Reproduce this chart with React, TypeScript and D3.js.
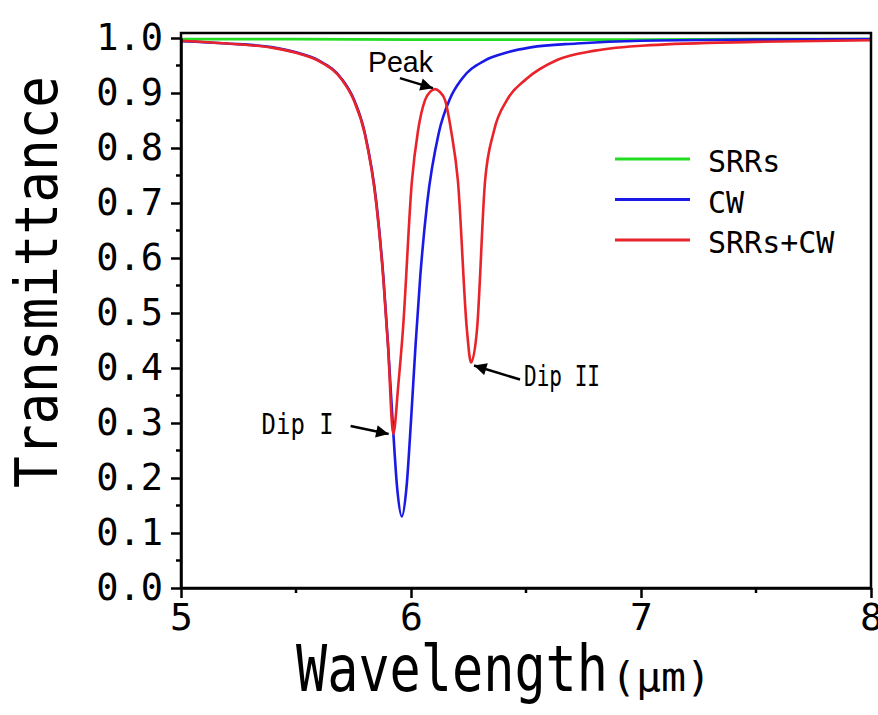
import { useEffect, useRef } from "react";
import * as d3 from "d3";

// SRRs only
const srrWavelength = [5.0, 5.5, 6.0, 6.5, 7.0, 7.5, 8.0];
const srrTransmittance = [0.998, 0.998, 0.997, 0.997, 0.997, 0.998, 0.998];

// cut wire only
const cwWavelength = [
  5.0, 5.2, 5.4, 5.5, 5.6, 5.7, 5.75, 5.8, 5.85, 5.88, 5.9, 5.92, 5.94, 5.96,
  5.98, 6.0, 6.02, 6.04, 6.07, 6.12, 6.17, 6.22, 6.32, 6.42, 6.52, 6.72, 7.0,
  7.5, 8.0,
];
const cwTransmittance = [
  0.994, 0.99, 0.983, 0.974, 0.959, 0.925, 0.89, 0.826, 0.699, 0.565, 0.443,
  0.304, 0.181, 0.13, 0.181, 0.304, 0.443, 0.565, 0.699, 0.826, 0.89, 0.925,
  0.959, 0.974, 0.983, 0.99, 0.995, 0.997, 0.998,
];

// SRRs + CW
const bothWavelength = [
  5.0, 5.2, 5.4, 5.5, 5.6, 5.7, 5.75, 5.8, 5.85, 5.88, 5.9, 5.923, 5.945, 5.965,
  6.004, 6.03, 6.061, 6.085, 6.104, 6.125, 6.148, 6.175, 6.204, 6.243, 6.261,
  6.287, 6.322, 6.36, 6.417, 6.5, 6.635, 6.8, 7.04, 7.5, 8.0,
];
const bothTransmittance = [
  0.995, 0.99, 0.982, 0.973, 0.958, 0.924, 0.888, 0.824, 0.695, 0.56, 0.44,
  0.28, 0.37, 0.47, 0.74, 0.83, 0.887, 0.903, 0.907, 0.902, 0.887, 0.83, 0.74,
  0.47, 0.41, 0.47, 0.74, 0.83, 0.887, 0.925, 0.96, 0.977, 0.987, 0.993, 0.996,
];

const seriesNames = ["SRRs", "CW", "SRRs+CW"];
const seriesColors = ["#22dd22", "#1a1ae6", "#e8232a"];

const xMajorTicks = [5, 6, 7, 8];
const xMinorTicks = [5.5, 6.5, 7.5];
const yMajorTicks = [0, 0.1, 0.2, 0.3, 0.4, 0.5, 0.6, 0.7, 0.8, 0.9, 1.0];
const yMinorTicks = [0.05, 0.15, 0.25, 0.35, 0.45, 0.55, 0.65, 0.75, 0.85, 0.95];

// arrow tip in data units, label placement in px relative to the tip
const annotations = [
  { label: "Peak", wl: 6.104, t: 0.907, dx: -2, dy: -1, tail: [-33, -10], text: [-65, -16], len: 65 },
  { label: "Dip I", wl: 5.92, t: 0.28, dx: -4, dy: 0, tail: [-38, -8], text: [-127, 0], len: 72 },
  { label: "Dip II", wl: 6.261, t: 0.41, dx: 3, dy: 3, tail: [46, 14], text: [50, 20], len: 76 },
];

const W = 878;
const H = 715;
const margin = { top: 33, right: 7, bottom: 127, left: 181 };
const mono = "'DejaVu Sans Mono', monospace";

export default function App() {
  const svgRef = useRef<SVGSVGElement>(null);

  useEffect(() => {
    const svg = d3.select(svgRef.current);
    svg.selectAll("*").remove();

    const x = d3.scaleLinear().domain([5, 8]).range([margin.left, W - margin.right]);
    const y = d3.scaleLinear().domain([0, 1]).range([H - margin.bottom, 38]);

    svg
      .append("defs")
      .append("marker")
      .attr("id", "arrow")
      .attr("viewBox", "0 0 10 10")
      .attr("refX", 10)
      .attr("refY", 5)
      .attr("markerWidth", 6)
      .attr("markerHeight", 5)
      .attr("markerUnits", "strokeWidth")
      .attr("orient", "auto")
      .append("path")
      .attr("d", "M0,0L10,5L0,10z")
      .attr("fill", "#000");

    // curves
    const data = [
      d3.zip(srrWavelength, srrTransmittance),
      d3.zip(cwWavelength, cwTransmittance),
      d3.zip(bothWavelength, bothTransmittance),
    ];
    const line = d3
      .line<number[]>()
      .x((d) => x(d[0]))
      .y((d) => y(d[1]))
      .curve(d3.curveMonotoneX);

    data.forEach((pts, i) => {
      svg
        .append("path")
        .datum(pts)
        .attr("fill", "none")
        .attr("stroke", seriesColors[i])
        .attr("stroke-width", 2.6)
        .attr("d", line);
    });

    // frame
    svg
      .append("rect")
      .attr("x", margin.left)
      .attr("y", margin.top)
      .attr("width", W - margin.left - margin.right)
      .attr("height", H - margin.top - margin.bottom)
      .attr("fill", "none")
      .attr("stroke", "#000")
      .attr("stroke-width", 2.5);

    // y axis
    const yAxis = svg
      .append("g")
      .attr("transform", `translate(${margin.left},0)`)
      .call(
        d3.axisLeft(y)
          .tickValues(yMajorTicks)
          .tickFormat(d3.format(".1f"))
          .tickSize(10)
          .tickSizeOuter(0)
          .tickPadding(8)
      );
    yAxis.select(".domain").attr("stroke-width", 2.5);
    yAxis.selectAll("line").attr("stroke-width", 2.5);
    yAxis.selectAll("text").style("font-family", mono).style("font-size", "37px").attr("fill", "#000");

    svg
      .append("g")
      .selectAll("line")
      .data(yMinorTicks)
      .enter()
      .append("line")
      .attr("x1", margin.left - 5)
      .attr("x2", margin.left)
      .attr("y1", (d) => y(d))
      .attr("y2", (d) => y(d))
      .attr("stroke", "#000")
      .attr("stroke-width", 2.5);

    // x axis
    const xAxis = svg
      .append("g")
      .attr("transform", `translate(0,${H - margin.bottom})`)
      .call(
        d3.axisBottom(x)
          .tickValues(xMajorTicks)
          .tickFormat(d3.format("d"))
          .tickSize(10)
          .tickSizeOuter(0)
          .tickPadding(5)
      );
    xAxis.select(".domain").attr("stroke-width", 2.5);
    xAxis.selectAll("line").attr("stroke-width", 2.5);
    xAxis.selectAll("text").style("font-family", mono).style("font-size", "38px").attr("fill", "#000");

    svg
      .append("g")
      .selectAll("line")
      .data(xMinorTicks)
      .enter()
      .append("line")
      .attr("x1", (d) => x(d))
      .attr("x2", (d) => x(d))
      .attr("y1", H - margin.bottom)
      .attr("y2", H - margin.bottom + 5)
      .attr("stroke", "#000")
      .attr("stroke-width", 2.5);

    // axis titles
    svg
      .append("text")
      .attr("transform", "translate(57,282) rotate(-90)")
      .attr("text-anchor", "middle")
      .attr("textLength", 412)
      .attr("lengthAdjust", "spacingAndGlyphs")
      .style("font-family", mono)
      .style("font-size", "58px")
      .text("Transmittance");

    svg
      .append("text")
      .attr("x", 296)
      .attr("y", 691)
      .attr("textLength", 312)
      .attr("lengthAdjust", "spacingAndGlyphs")
      .style("font-family", mono)
      .style("font-size", "64px")
      .text("Wavelength");

    svg
      .append("text")
      .attr("x", 611)
      .attr("y", 691)
      .attr("textLength", 100)
      .attr("lengthAdjust", "spacingAndGlyphs")
      .style("font-family", mono)
      .style("font-size", "40px")
      .text("(μm)");

    // legend
    const legend = svg.append("g").attr("transform", "translate(615,159)");
    seriesNames.forEach((name, i) => {
      const g = legend.append("g").attr("transform", `translate(0,${i * 40.5})`);
      g.append("line")
        .attr("x1", 0)
        .attr("x2", 75)
        .attr("stroke", seriesColors[i])
        .attr("stroke-width", 3);
      g.append("text")
        .attr("x", 93)
        .attr("y", 13)
        .style("font-family", mono)
        .style("font-size", "30px")
        .text(name);
    });

    // annotations
    annotations.forEach((a) => {
      const px = x(a.wl) + a.dx;
      const py = y(a.t) + a.dy;
      svg
        .append("line")
        .attr("x1", px + a.tail[0])
        .attr("y1", py + a.tail[1])
        .attr("x2", px)
        .attr("y2", py)
        .attr("stroke", "#000")
        .attr("stroke-width", 2.5)
        .attr("marker-end", "url(#arrow)");
      svg
        .append("text")
        .attr("x", px + a.text[0])
        .attr("y", py + a.text[1])
        .attr("textLength", a.len)
        .attr("lengthAdjust", "spacingAndGlyphs")
        .style("font-family", a.label === "Peak" ? "'Liberation Sans', Arial, sans-serif" : mono)
        .style("font-size", a.label === "Peak" ? "29px" : "29px")
        .text(a.label);
    });
  }, []);

  return (
    <svg
      ref={svgRef}
      width={W}
      height={H}
      style={{ position: "absolute", left: 0, top: 0, background: "#fff" }}
    />
  );
}
